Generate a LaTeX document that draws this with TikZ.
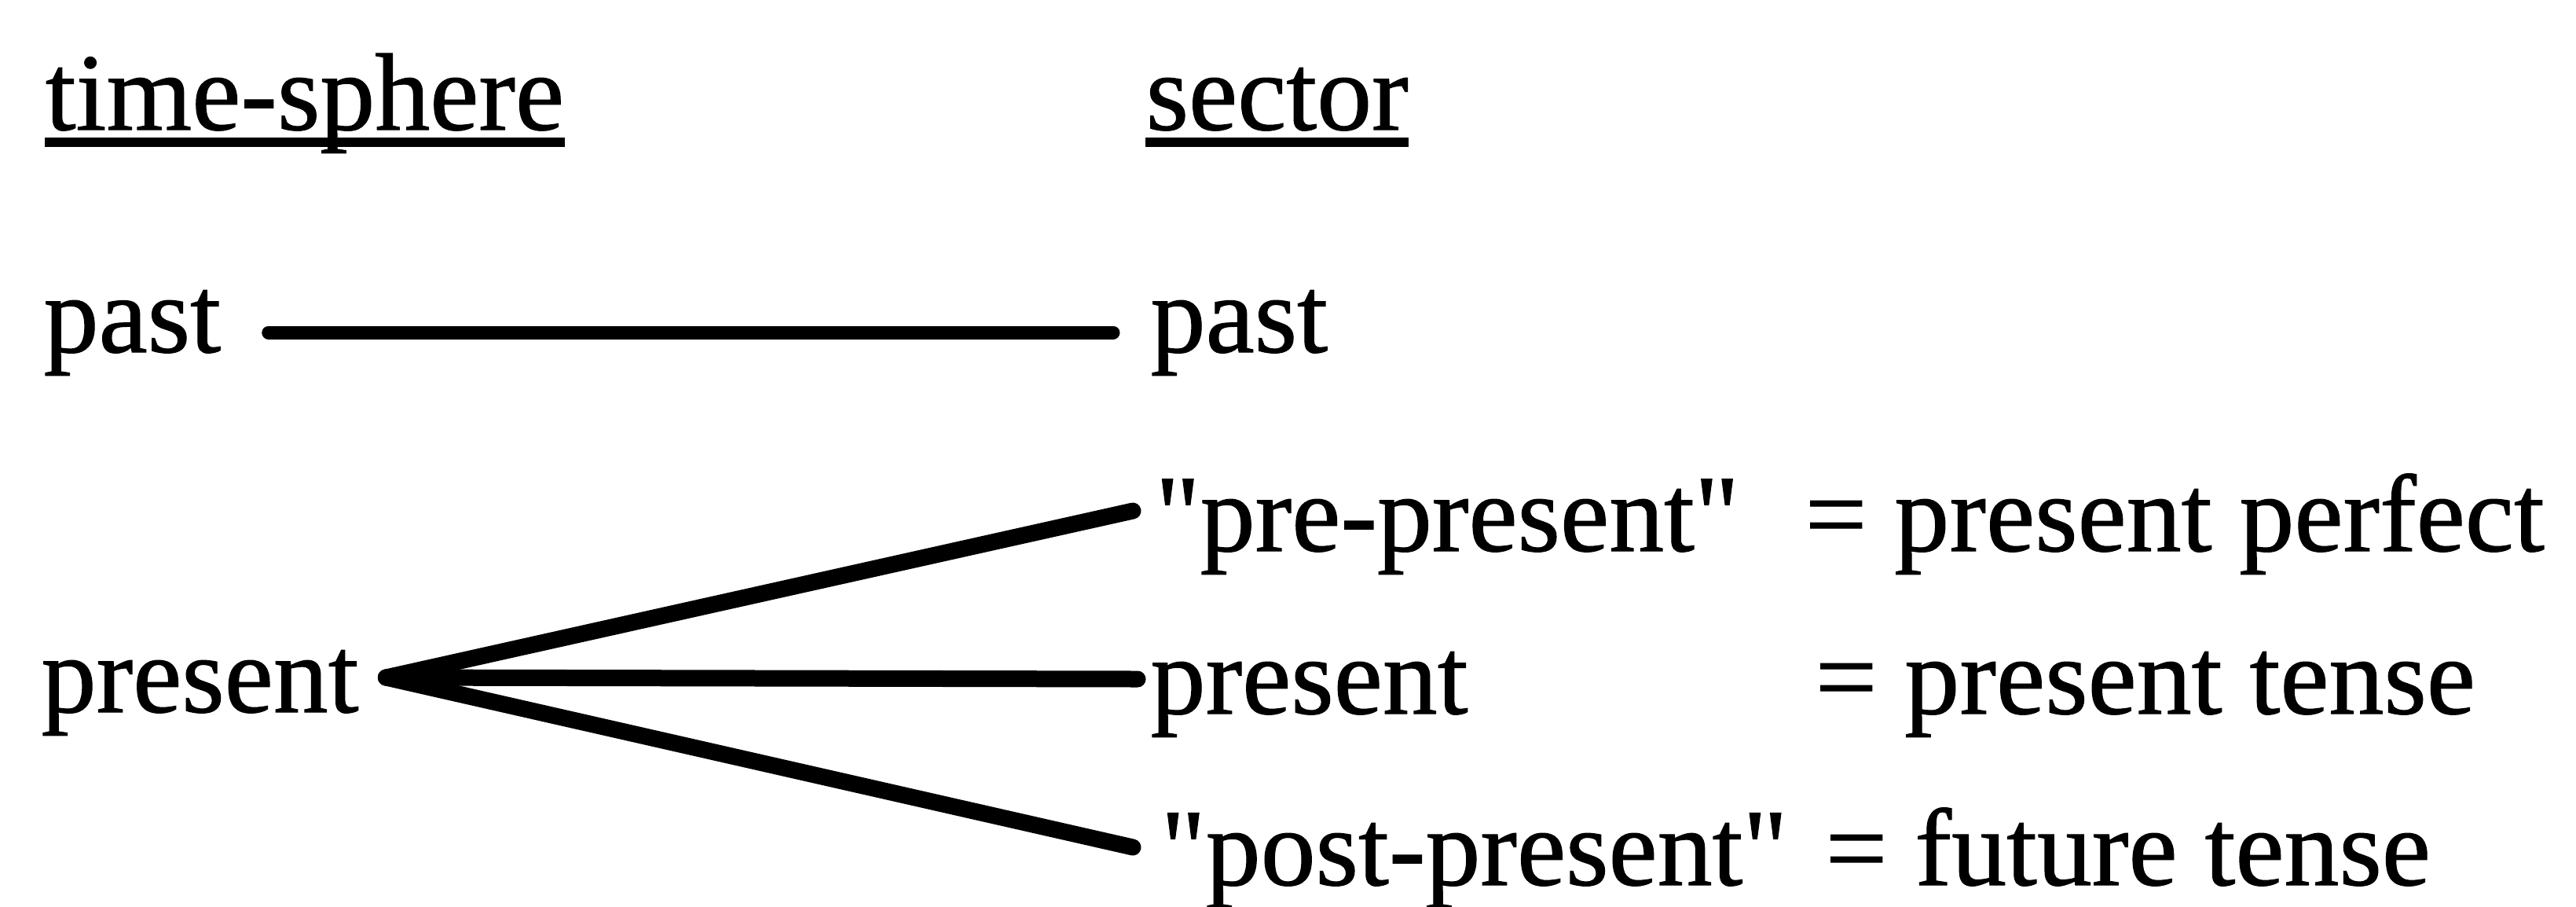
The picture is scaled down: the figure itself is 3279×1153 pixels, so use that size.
\documentclass[tikz,border=0pt]{standalone}
\usepackage{fontspec}
\setmainfont{Liberation Serif}[Ligatures=TeXOff,
  BoldFont=Liberation Serif, BoldFeatures={FakeBold=0.8}]
\usetikzlibrary{calc}
\begin{document}
\begin{tikzpicture}[x=0.1mm,y=-0.1mm,
  lbl/.style={anchor=base west,inner sep=0pt,font=\fontsize{39.8}{48}\selectfont\bfseries},
  thinlink/.style={line width=1.7mm,line cap=round},
  branch/.style={line width=2.1mm,line cap=round},
  ul/.style={line width=1.2mm}]
\useasboundingbox (0,0) rectangle (3279,1153);

% column headings
\node[lbl] (tsph) at (57,165) {time-sphere};
\node[lbl] (sect) at (1458,165) {sector};
\draw[ul] ($(tsph.base west)+(0,16)$) -- ($(tsph.base east)+(0,16)$);
\draw[ul] ($(sect.base west)+(0,16)$) -- ($(sect.base east)+(0,16)$);

% time-spheres
\node[lbl] (pastL) at (55,448) {past};
\node[lbl] (presL) at (52,906) {present};

% sectors
\node[lbl] (pastR) at (1464,448) {past};
\node[lbl] (preR) at (1470,701) {"pre-present"};
\node[lbl] (presR) at (1464,908) {present};
\node[lbl] (postR) at (1477,1126) {"post-present"};

% tense equivalents
\node[lbl] (eqA) at (2297,701) {= present perfect};
\node[lbl] (eqB) at (2310,908) {= present tense};
\node[lbl] (eqC) at (2323,1126) {= future tense};

% links
\draw[thinlink] ($(pastL.base east)+(60,-25)$) -- ($(pastR.base west)+(-47,-25)$);
\coordinate (fork) at ($(presL.base east)+(34,-44)$);
\draw[branch] (fork) -- ($(preR.base west)+(-28,-51)$);
\draw[branch] (fork) -- ($(presR.base west)+(-16,-44)$);
\draw[branch] (fork) -- ($(postR.base west)+(-35,-48)$);
\end{tikzpicture}
\end{document}
